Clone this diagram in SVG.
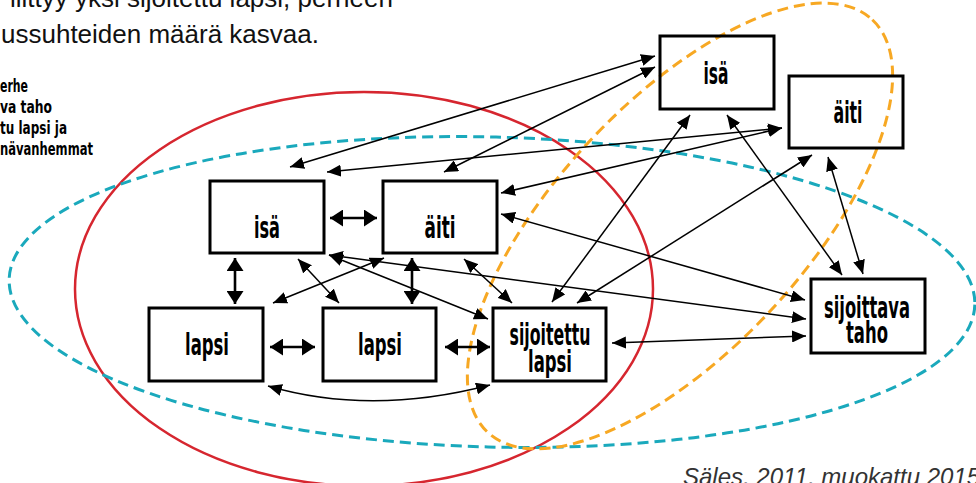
<svg xmlns="http://www.w3.org/2000/svg" width="976" height="483" viewBox="0 0 976 483">
<defs>
<marker id="e" markerUnits="userSpaceOnUse" markerWidth="14" markerHeight="12" viewBox="0 0 14 12" refX="14" refY="6" orient="auto"><path d="M0,0 L14,6 L0,12 Z" fill="#000"/></marker>
<marker id="s" markerUnits="userSpaceOnUse" markerWidth="14" markerHeight="12" viewBox="0 0 14 12" refX="0" refY="6" orient="auto"><path d="M14,0 L0,6 L14,12 Z" fill="#000"/></marker>
<marker id="eb" markerUnits="userSpaceOnUse" markerWidth="13" markerHeight="17" viewBox="0 0 13 17" refX="13" refY="8.5" orient="auto"><path d="M0,0 L13,8.5 L0,17 Z" fill="#000"/></marker>
<marker id="sb" markerUnits="userSpaceOnUse" markerWidth="13" markerHeight="17" viewBox="0 0 13 17" refX="0" refY="8.5" orient="auto"><path d="M13,0 L0,8.5 L13,17 Z" fill="#000"/></marker>
</defs>
<style>
.box{fill:none;stroke:#000;stroke-width:3}
.lbl{font-family:"DejaVu Sans Condensed","DejaVu Sans",sans-serif;font-size:30px;font-weight:bold;text-anchor:middle;fill:#000}
.c{stroke:#000;stroke-width:1.5;fill:none;marker-start:url(#s);marker-end:url(#e)}
.cb{stroke:#000;stroke-width:2.6;fill:none;marker-start:url(#sb);marker-end:url(#eb)}
.title{font-family:"Liberation Sans",Arial,sans-serif;font-size:26px;fill:#111}
.leg{font-family:"DejaVu Sans Condensed","DejaVu Sans",sans-serif;font-size:17px;font-weight:bold;fill:#000}
.dash{fill:none;stroke-width:3;stroke-dasharray:11 6}
</style>
<rect width="976" height="483" fill="#fff"/>
<g id="texts">
<text class="title" x="10" y="7">liittyy yksi sijoitettu lapsi, perheen</text>
<text class="title" x="1" y="43">ussuhteiden määrä kasvaa.</text>
<text class="leg" x="0" y="91.5" textLength="28" lengthAdjust="spacingAndGlyphs">erhe</text>
<text class="leg" x="0" y="112.5" textLength="52" lengthAdjust="spacingAndGlyphs">va taho</text>
<text class="leg" x="0" y="133.5" textLength="67" lengthAdjust="spacingAndGlyphs">tu lapsi ja</text>
<text class="leg" x="0" y="155" textLength="93" lengthAdjust="spacingAndGlyphs">nävanhemmat</text>
<text x="683" y="485" font-family="Liberation Sans, Arial, sans-serif" font-size="24" font-style="italic" fill="#333">Säles, 2011, muokattu 2015</text>
</g>
<g id="groups">
<ellipse cx="364" cy="289" rx="289" ry="197" fill="none" stroke="#d6262f" stroke-width="2.5"/>
<ellipse class="dash" cx="492" cy="292" rx="483" ry="155" transform="rotate(1.5 492 292)" stroke="#1aa9bc"/>
<ellipse class="dash" cx="680" cy="226" rx="282" ry="124" transform="rotate(-47 680 226)" stroke="#f7a823"/>
</g>
<g id="isa-top"><rect class="box" x="660" y="36" width="114" height="73"/><text class="lbl" x="716" y="84" textLength="25" lengthAdjust="spacingAndGlyphs">isä</text></g>
<g id="aiti-top"><rect class="box" x="789" y="76" width="114" height="72"/><text class="lbl" x="848" y="123" textLength="29" lengthAdjust="spacingAndGlyphs">äiti</text></g>
<g id="isa"><rect class="box" x="210" y="181" width="114" height="72"/><text class="lbl" x="267" y="238" textLength="26" lengthAdjust="spacingAndGlyphs">isä</text></g>
<g id="aiti"><rect class="box" x="383" y="181" width="114" height="72"/><text class="lbl" x="440" y="238" textLength="31" lengthAdjust="spacingAndGlyphs">äiti</text></g>
<g id="lapsi1"><rect class="box" x="149" y="308" width="114" height="73"/><text class="lbl" x="207" y="355" textLength="44" lengthAdjust="spacingAndGlyphs">lapsi</text></g>
<g id="lapsi2"><rect class="box" x="323" y="308" width="113" height="73"/><text class="lbl" x="380" y="355" textLength="44" lengthAdjust="spacingAndGlyphs">lapsi</text></g>
<g id="sijoitettu"><rect class="box" x="493" y="308" width="113" height="73"/><text class="lbl" x="550" y="345" textLength="81" lengthAdjust="spacingAndGlyphs">sijoitettu</text><text class="lbl" x="550" y="372" textLength="44" lengthAdjust="spacingAndGlyphs">lapsi</text></g>
<g id="taho"><rect class="box" x="811" y="279" width="114" height="74"/><text class="lbl" x="867" y="318" textLength="86" lengthAdjust="spacingAndGlyphs">sijoittava</text><text class="lbl" x="867" y="343" textLength="42" lengthAdjust="spacingAndGlyphs">taho</text></g>
<g id="connectors">
<path class="cb" d="M330,218 L377,218"/>
<path class="cb" d="M235,258 L235,304"/>
<path class="cb" d="M412,258 L412,304"/>
<path class="cb" d="M270,347 L315,347"/>
<path class="cb" d="M445,347 L490,347"/>
<path class="c" d="M268,386 Q371,416 490,385"/>
<path class="c" d="M298,259 L339,303"/>
<path class="c" d="M384,258 L273,303"/>
<path class="c" d="M464,259 L512,303"/>
<path class="c" d="M329,255 L488,319"/>
<path class="c" d="M329,255 L806,319"/>
<path class="c" d="M327,172 L782,128"/>
<path class="c" d="M501,193 L782,128"/>
<path class="c" d="M290,167 L655,56"/>
<path class="c" d="M444,172 L655,67"/>
<path class="c" d="M690,115 L552,302"/>
<path class="c" d="M727,115 L842,275"/>
<path class="c" d="M812,155 L577,303"/>
<path class="c" d="M828,157 L863,274"/>
<path class="c" d="M501,214 L805,300"/>
<path class="c" d="M612,343 L806,336"/>
</g>
</svg>
